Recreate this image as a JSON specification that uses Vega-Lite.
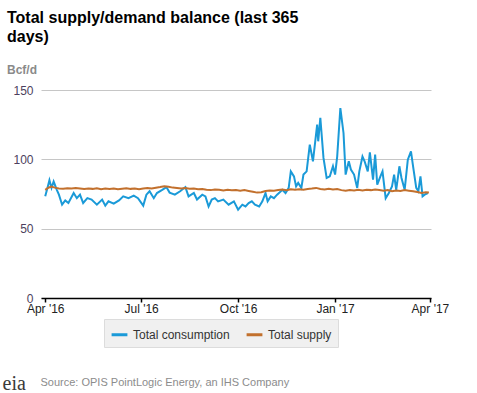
{
  "$schema": "https://vega.github.io/schema/vega-lite/v6.json",
  "width": 390,
  "height": 208,
  "autosize": "none",
  "padding": {"left": 41, "top": 90, "right": 46, "bottom": 95},
  "background": "#ffffff",
  "config": {
    "font": "Liberation Sans",
    "view": {"stroke": null}
  },
  "title": {
    "text": ["Total supply/demand balance (last 365", "days)"],
    "subtitle": "Bcf/d",
    "anchor": "start",
    "frame": "group",
    "dx": -34,
    "offset": 8,
    "font": "Liberation Sans",
    "fontSize": 16,
    "fontWeight": "bold",
    "color": "#000000",
    "lineHeight": 19,
    "subtitleFont": "Liberation Sans",
    "subtitleFontSize": 12,
    "subtitleFontWeight": "bold",
    "subtitleColor": "#8a8a8a",
    "subtitlePadding": 20
  },
  "datasets": {
    "consumption": [
      {"date": "2016-04-01", "value": 73.3}, {"date": "2016-04-03", "value": 79}, {"date": "2016-04-05", "value": 85},
      {"date": "2016-04-07", "value": 79.4}, {"date": "2016-04-09", "value": 84}, {"date": "2016-04-12", "value": 78},
      {"date": "2016-04-14", "value": 74.5}, {"date": "2016-04-17", "value": 67.3}, {"date": "2016-04-20", "value": 70.4},
      {"date": "2016-04-23", "value": 68.5}, {"date": "2016-04-28", "value": 75.7}, {"date": "2016-05-01", "value": 72},
      {"date": "2016-05-04", "value": 74.5}, {"date": "2016-05-07", "value": 68.5}, {"date": "2016-05-11", "value": 72},
      {"date": "2016-05-15", "value": 71}, {"date": "2016-05-20", "value": 67.3}, {"date": "2016-05-25", "value": 71},
      {"date": "2016-05-28", "value": 66.6}, {"date": "2016-05-31", "value": 69.7}, {"date": "2016-06-05", "value": 68},
      {"date": "2016-06-10", "value": 70.4}, {"date": "2016-06-14", "value": 73.3}, {"date": "2016-06-19", "value": 72},
      {"date": "2016-06-24", "value": 73.8}, {"date": "2016-06-28", "value": 72}, {"date": "2016-07-03", "value": 66.6},
      {"date": "2016-07-06", "value": 74.5}, {"date": "2016-07-09", "value": 77}, {"date": "2016-07-13", "value": 72},
      {"date": "2016-07-16", "value": 75.7}, {"date": "2016-07-21", "value": 78}, {"date": "2016-07-25", "value": 80},
      {"date": "2016-07-28", "value": 76}, {"date": "2016-08-02", "value": 74.5}, {"date": "2016-08-07", "value": 77},
      {"date": "2016-08-12", "value": 80}, {"date": "2016-08-15", "value": 73.3}, {"date": "2016-08-20", "value": 75.7},
      {"date": "2016-08-23", "value": 71}, {"date": "2016-08-28", "value": 74.5}, {"date": "2016-08-31", "value": 73.3},
      {"date": "2016-09-03", "value": 66}, {"date": "2016-09-06", "value": 71}, {"date": "2016-09-09", "value": 72},
      {"date": "2016-09-12", "value": 69.7}, {"date": "2016-09-17", "value": 71}, {"date": "2016-09-22", "value": 67.3},
      {"date": "2016-09-27", "value": 69.7}, {"date": "2016-10-01", "value": 63.7}, {"date": "2016-10-05", "value": 67.3},
      {"date": "2016-10-08", "value": 66}, {"date": "2016-10-11", "value": 68.5}, {"date": "2016-10-14", "value": 69.7},
      {"date": "2016-10-17", "value": 67.3}, {"date": "2016-10-21", "value": 66}, {"date": "2016-10-24", "value": 69.7},
      {"date": "2016-10-27", "value": 75.7}, {"date": "2016-10-29", "value": 69.7}, {"date": "2016-11-01", "value": 73.3},
      {"date": "2016-11-04", "value": 72}, {"date": "2016-11-07", "value": 74.5}, {"date": "2016-11-12", "value": 78},
      {"date": "2016-11-15", "value": 75.7}, {"date": "2016-11-18", "value": 79.4}, {"date": "2016-11-20", "value": 91.3},
      {"date": "2016-11-23", "value": 87.7}, {"date": "2016-11-25", "value": 80.5}, {"date": "2016-11-27", "value": 83},
      {"date": "2016-11-30", "value": 79.4}, {"date": "2016-12-02", "value": 89}, {"date": "2016-12-05", "value": 91.3},
      {"date": "2016-12-08", "value": 110.6}, {"date": "2016-12-11", "value": 98.6}, {"date": "2016-12-15", "value": 125},
      {"date": "2016-12-16", "value": 113}, {"date": "2016-12-18", "value": 130}, {"date": "2016-12-21", "value": 101},
      {"date": "2016-12-24", "value": 86.6}, {"date": "2016-12-27", "value": 87.7}, {"date": "2016-12-30", "value": 95},
      {"date": "2017-01-01", "value": 89}, {"date": "2017-01-03", "value": 102}, {"date": "2017-01-06", "value": 137},
      {"date": "2017-01-09", "value": 119}, {"date": "2017-01-11", "value": 89}, {"date": "2017-01-14", "value": 98.6},
      {"date": "2017-01-16", "value": 92.6}, {"date": "2017-01-19", "value": 89}, {"date": "2017-01-22", "value": 79.4},
      {"date": "2017-01-24", "value": 91.3}, {"date": "2017-01-27", "value": 102}, {"date": "2017-01-29", "value": 98.6},
      {"date": "2017-02-01", "value": 91.3}, {"date": "2017-02-03", "value": 105}, {"date": "2017-02-06", "value": 85.4},
      {"date": "2017-02-08", "value": 103.4}, {"date": "2017-02-10", "value": 81.7}, {"date": "2017-02-13", "value": 87.7},
      {"date": "2017-02-15", "value": 91.3}, {"date": "2017-02-18", "value": 72}, {"date": "2017-02-21", "value": 75.7},
      {"date": "2017-02-24", "value": 80.5}, {"date": "2017-02-26", "value": 89}, {"date": "2017-02-28", "value": 78},
      {"date": "2017-03-03", "value": 95}, {"date": "2017-03-05", "value": 86.6}, {"date": "2017-03-08", "value": 78},
      {"date": "2017-03-11", "value": 99.8}, {"date": "2017-03-14", "value": 105.8}, {"date": "2017-03-16", "value": 95},
      {"date": "2017-03-19", "value": 79.4}, {"date": "2017-03-21", "value": 77}, {"date": "2017-03-23", "value": 87.7},
      {"date": "2017-03-25", "value": 73.3}, {"date": "2017-03-27", "value": 74.5}, {"date": "2017-03-30", "value": 75.7}
    ],
    "supply": [
      {"date": "2016-04-01", "value": 78.0}, {"date": "2016-04-04", "value": 79.5}, {"date": "2016-04-07", "value": 80.3},
      {"date": "2016-04-10", "value": 79.6}, {"date": "2016-04-14", "value": 79.0}, {"date": "2016-04-18", "value": 78.8},
      {"date": "2016-04-22", "value": 79.2}, {"date": "2016-04-26", "value": 79.0}, {"date": "2016-04-30", "value": 79.4},
      {"date": "2016-05-04", "value": 79.0}, {"date": "2016-05-08", "value": 78.6}, {"date": "2016-05-12", "value": 79.0},
      {"date": "2016-05-16", "value": 78.7}, {"date": "2016-05-20", "value": 79.1}, {"date": "2016-05-24", "value": 78.5},
      {"date": "2016-05-28", "value": 78.9}, {"date": "2016-06-01", "value": 78.6}, {"date": "2016-06-05", "value": 79.0},
      {"date": "2016-06-09", "value": 78.4}, {"date": "2016-06-13", "value": 78.8}, {"date": "2016-06-17", "value": 79.2},
      {"date": "2016-06-21", "value": 78.7}, {"date": "2016-06-25", "value": 79.0}, {"date": "2016-06-29", "value": 78.5},
      {"date": "2016-07-03", "value": 78.9}, {"date": "2016-07-07", "value": 79.3}, {"date": "2016-07-11", "value": 79.0},
      {"date": "2016-07-15", "value": 79.5}, {"date": "2016-07-19", "value": 80.0}, {"date": "2016-07-23", "value": 80.6},
      {"date": "2016-07-27", "value": 80.3}, {"date": "2016-07-31", "value": 79.6}, {"date": "2016-08-04", "value": 79.4},
      {"date": "2016-08-08", "value": 79.0}, {"date": "2016-08-12", "value": 79.3}, {"date": "2016-08-16", "value": 78.8},
      {"date": "2016-08-20", "value": 78.9}, {"date": "2016-08-24", "value": 78.4}, {"date": "2016-08-28", "value": 78.6},
      {"date": "2016-09-01", "value": 78.0}, {"date": "2016-09-05", "value": 77.8}, {"date": "2016-09-09", "value": 78.3},
      {"date": "2016-09-13", "value": 78.0}, {"date": "2016-09-17", "value": 77.6}, {"date": "2016-09-21", "value": 78.1},
      {"date": "2016-09-25", "value": 77.7}, {"date": "2016-09-29", "value": 77.9}, {"date": "2016-10-03", "value": 77.4},
      {"date": "2016-10-07", "value": 77.8}, {"date": "2016-10-11", "value": 77.2}, {"date": "2016-10-15", "value": 76.6},
      {"date": "2016-10-19", "value": 76.0}, {"date": "2016-10-23", "value": 76.3}, {"date": "2016-10-27", "value": 77.2},
      {"date": "2016-10-31", "value": 77.6}, {"date": "2016-11-04", "value": 77.4}, {"date": "2016-11-08", "value": 77.9},
      {"date": "2016-11-12", "value": 78.2}, {"date": "2016-11-16", "value": 77.8}, {"date": "2016-11-20", "value": 78.4},
      {"date": "2016-11-24", "value": 78.0}, {"date": "2016-11-28", "value": 78.5}, {"date": "2016-12-02", "value": 78.1},
      {"date": "2016-12-06", "value": 78.6}, {"date": "2016-12-10", "value": 78.9}, {"date": "2016-12-14", "value": 79.4},
      {"date": "2016-12-18", "value": 78.6}, {"date": "2016-12-22", "value": 78.2}, {"date": "2016-12-26", "value": 78.7},
      {"date": "2016-12-30", "value": 78.3}, {"date": "2017-01-03", "value": 78.6}, {"date": "2017-01-07", "value": 77.8},
      {"date": "2017-01-11", "value": 77.3}, {"date": "2017-01-15", "value": 77.8}, {"date": "2017-01-19", "value": 77.5},
      {"date": "2017-01-23", "value": 78.0}, {"date": "2017-01-27", "value": 77.6}, {"date": "2017-01-31", "value": 78.1},
      {"date": "2017-02-04", "value": 77.8}, {"date": "2017-02-08", "value": 78.3}, {"date": "2017-02-12", "value": 77.9},
      {"date": "2017-02-16", "value": 77.3}, {"date": "2017-02-20", "value": 77.8}, {"date": "2017-02-24", "value": 77.0},
      {"date": "2017-02-28", "value": 77.6}, {"date": "2017-03-04", "value": 77.2}, {"date": "2017-03-08", "value": 77.8},
      {"date": "2017-03-12", "value": 77.4}, {"date": "2017-03-16", "value": 77.0}, {"date": "2017-03-20", "value": 76.4},
      {"date": "2017-03-24", "value": 75.8}, {"date": "2017-03-28", "value": 76.2}, {"date": "2017-03-31", "value": 76.0}
    ]
  },
  "encoding": {
    "x": {
      "field": "date",
      "type": "temporal",
      "scale": {"domain": [{"year": 2016, "month": 3, "date": 28, "utc": true}, {"year": 2017, "month": 4, "date": 2, "utc": true}]},
      "axis": {
        "format": "%b '%y",
        "tickCount": {"interval": "month", "step": 3},
        "grid": false,
        "domainColor": "#000000",
        "domainWidth": 1.5,
        "tickColor": "#000000",
        "tickSize": 4,
        "tickWidth": 1.5,
        "labelFontSize": 12,
        "labelColor": "#222222",
        "labelPadding": 1,
        "labelFlush": false,
        "title": "Source: OPIS PointLogic Energy, an IHS Company",
        "titleFont": "Liberation Sans",
        "titleFontSize": 11,
        "titleFontWeight": "normal",
        "titleColor": "#8c8c8c",
        "titleAnchor": "start",
        "titleAlign": "left",
        "titleBaseline": "alphabetic",
        "titleX": -1,
        "titleY": 87
      }
    },
    "y": {
      "field": "value",
      "type": "quantitative",
      "scale": {"domain": [0, 150], "nice": false},
      "axis": {
        "values": [0, 50, 100, 150],
        "grid": true,
        "gridColor": "#c6c6c6",
        "gridWidth": 1,
        "domain": false,
        "ticks": false,
        "labelFontSize": 12,
        "labelColor": "#4d3f5e",
        "labelPadding": 8,
        "title": "eia",
        "titleFont": "Liberation Serif",
        "titleFontSize": 20,
        "titleFontWeight": "normal",
        "titleColor": "#3a3a3a",
        "titleAngle": 0,
        "titleAlign": "left",
        "titleBaseline": "alphabetic",
        "titleX": -39,
        "titleY": 299
      }
    },
    "color": {
      "type": "nominal",
      "scale": {"domain": ["Total consumption", "Total supply"], "range": ["#1a9ad8", "#c2702d"]},
      "legend": {
        "title": null,
        "orient": "none",
        "legendX": 63,
        "legendY": 229,
        "direction": "horizontal",
        "fillColor": "#f0f0f0",
        "strokeColor": "#dcdcdc",
        "padding": 6,
        "symbolType": "stroke",
        "symbolStrokeWidth": 3,
        "symbolSize": 250,
        "labelFontSize": 12,
        "labelColor": "#333333",
        "labelFont": "Liberation Sans",
        "columnPadding": 10
      }
    }
  },
  "layer": [
    {
      "data": {"name": "consumption"},
      "mark": {"type": "line", "strokeWidth": 2},
      "encoding": {"color": {"datum": "Total consumption"}}
    },
    {
      "data": {"name": "supply"},
      "mark": {"type": "line", "strokeWidth": 2},
      "encoding": {"color": {"datum": "Total supply"}}
    }
  ]
}
